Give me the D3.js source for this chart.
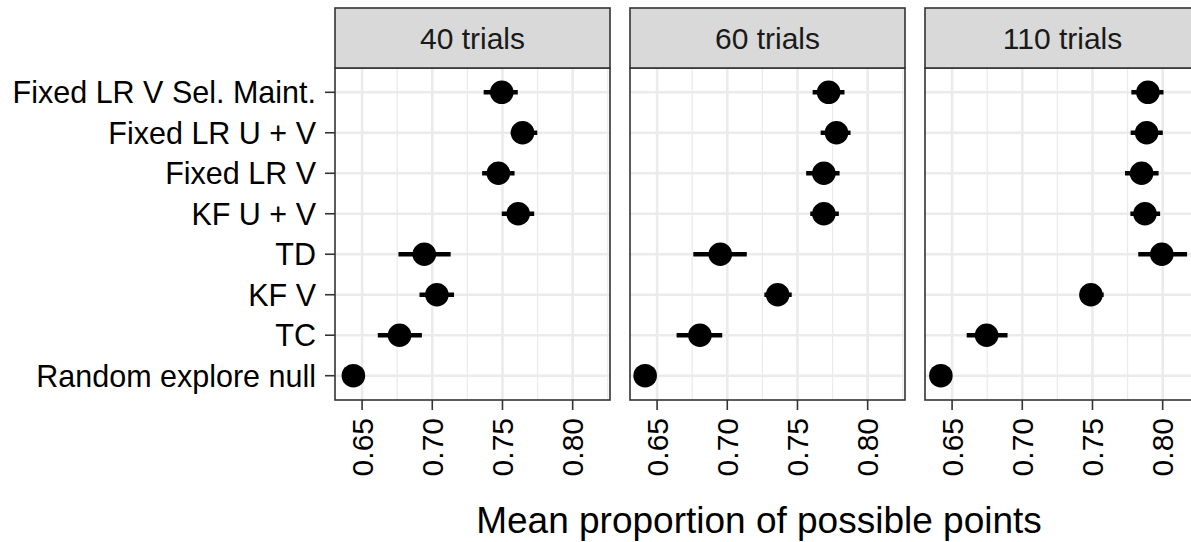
<!DOCTYPE html>
<html>
<head>
<meta charset="utf-8">
<script src="https://cdn.jsdelivr.net/npm/d3@7"></script>
<style>
    body { margin: 0; background: #fff; }
    text { font-family: "Liberation Sans", Arial, Helvetica, sans-serif; }
</style>
</head>
<body>
<div id="chart"></div>
<script>
// data
const categories = ["Fixed LR V Sel. Maint.", "Fixed LR U + V", "Fixed LR V", "KF U + V",
                    "TD", "KF V", "TC", "Random explore null"];
const panels = ["40 trials", "60 trials", "110 trials"];
const xTicks = [0.65, 0.70, 0.75, 0.80];
const xMinor = [0.675, 0.725, 0.775, 0.825];

const mean40 = [0.7495, 0.7643, 0.7471, 0.7612, 0.6943, 0.7033, 0.6767, 0.6438];
const lo40   = [0.7366, 0.7559, 0.7355, 0.7495, 0.6759, 0.6909, 0.6612, 0.6438];
const hi40   = [0.7609, 0.7748, 0.7586, 0.7726, 0.7131, 0.7155, 0.6926, 0.6438];

const mean60 = [0.7722, 0.7778, 0.7688, 0.7688, 0.6950, 0.7359, 0.6805, 0.6415];
const lo60   = [0.7608, 0.7665, 0.7562, 0.7591, 0.6758, 0.7264, 0.6639, 0.6415];
const hi60   = [0.7835, 0.7878, 0.7800, 0.7795, 0.7139, 0.7459, 0.6964, 0.6415];

const mean110 = [0.7895, 0.7886, 0.7850, 0.7874, 0.7994, 0.7489, 0.6746, 0.6420];
const lo110   = [0.7777, 0.7772, 0.7732, 0.7770, 0.7826, 0.7415, 0.6604, 0.6420];
const hi110   = [0.8006, 0.8001, 0.7971, 0.7982, 0.8174, 0.7580, 0.6895, 0.6420];

const series = [
    {mean: mean40, lo: lo40, hi: hi40},
    {mean: mean60, lo: lo60, hi: hi60},
    {mean: mean110, lo: lo110, hi: hi110}
];

function drawFacets() {
    const width = 1191, height = 542;
    const left = 335, panelW = 275, gap = 20;
    const stripTop = 8, panelTop = 68, panelBottom = 400;

    const svg = d3.select("#chart")
        .append("svg")
        .attr("width", width)
        .attr("height", height);

    // shared y scale (discrete)
    const y = d3.scalePoint()
        .domain(categories)
        .range([panelTop, panelBottom])
        .padding(0.6);

    // y axis labels + ticks
    const yAxis = svg.append("g");
    categories.forEach(function(c) {
        yAxis.append("line")
            .attr("x1", left - 10).attr("x2", left)
            .attr("y1", y(c)).attr("y2", y(c))
            .attr("stroke", "#333").attr("stroke-width", 1.6);
        yAxis.append("text")
            .attr("x", left - 19)
            .attr("y", y(c))
            .attr("dy", "0.36em")
            .attr("text-anchor", "end")
            .attr("font-size", 30.5)
            .attr("fill", "#000")
            .text(c);
    });

    panels.forEach(function(name, i) {
        const x0 = left + i * (panelW + gap);
        const x = d3.scaleLinear()
            .domain([0.6307, 0.8266])
            .range([x0, x0 + panelW]);
        const s = series[i];
        const g = svg.append("g");

        // panel background
        g.append("rect")
            .attr("x", x0).attr("y", panelTop)
            .attr("width", panelW).attr("height", panelBottom - panelTop)
            .attr("fill", "#fff");

        // grid lines
        xMinor.filter(v => x(v) < x0 + panelW).forEach(function(v) {
            g.append("line")
                .attr("x1", x(v)).attr("x2", x(v))
                .attr("y1", panelTop).attr("y2", panelBottom)
                .attr("stroke", "#ebebeb").attr("stroke-width", 1.3);
        });
        xTicks.forEach(function(v) {
            g.append("line")
                .attr("x1", x(v)).attr("x2", x(v))
                .attr("y1", panelTop).attr("y2", panelBottom)
                .attr("stroke", "#ebebeb").attr("stroke-width", 2.6);
        });
        categories.forEach(function(c) {
            g.append("line")
                .attr("x1", x0).attr("x2", x0 + panelW)
                .attr("y1", y(c)).attr("y2", y(c))
                .attr("stroke", "#ebebeb").attr("stroke-width", 2.6);
        });

        // error bars
        g.selectAll(".err")
            .data(categories)
            .enter()
            .append("line")
            .attr("x1", (c, j) => x(s.lo[j]))
            .attr("x2", (c, j) => x(s.hi[j]))
            .attr("y1", c => y(c))
            .attr("y2", c => y(c))
            .attr("stroke", "#000")
            .attr("stroke-width", 4.5);

        // points
        g.selectAll(".pt")
            .data(categories)
            .enter()
            .append("circle")
            .attr("cx", (c, j) => x(s.mean[j]))
            .attr("cy", c => y(c))
            .attr("r", 11.8)
            .attr("fill", "#000");

        // panel border
        g.append("rect")
            .attr("x", x0).attr("y", panelTop)
            .attr("width", panelW).attr("height", panelBottom - panelTop)
            .attr("fill", "none")
            .attr("stroke", "#333").attr("stroke-width", 1.6);

        // strip
        g.append("rect")
            .attr("x", x0).attr("y", stripTop)
            .attr("width", panelW).attr("height", panelTop - stripTop)
            .attr("fill", "#d9d9d9")
            .attr("stroke", "#333").attr("stroke-width", 1.6);
        g.append("text")
            .attr("x", x0 + panelW / 2)
            .attr("y", (stripTop + panelTop) / 2)
            .attr("dy", "0.36em")
            .attr("text-anchor", "middle")
            .attr("font-size", 30)
            .attr("fill", "#1a1a1a")
            .text(name);

        // x axis ticks + rotated labels
        xTicks.forEach(function(v) {
            g.append("line")
                .attr("x1", x(v)).attr("x2", x(v))
                .attr("y1", panelBottom).attr("y2", panelBottom + 10)
                .attr("stroke", "#333").attr("stroke-width", 1.6);
            g.append("text")
                .attr("transform", `translate(${x(v)},${panelBottom + 18}) rotate(-90)`)
                .attr("dy", "0.36em")
                .attr("text-anchor", "end")
                .attr("font-size", 30)
                .attr("fill", "#000")
                .text(d3.format(".2f")(v));
        });
    });

    // axis title
    svg.append("text")
        .attr("x", (left + width) / 2 - 4)
        .attr("y", 533)
        .attr("text-anchor", "middle")
        .attr("font-size", 37)
        .attr("fill", "#000")
        .text("Mean proportion of possible points");
}

drawFacets();
</script>
</body>
</html>
